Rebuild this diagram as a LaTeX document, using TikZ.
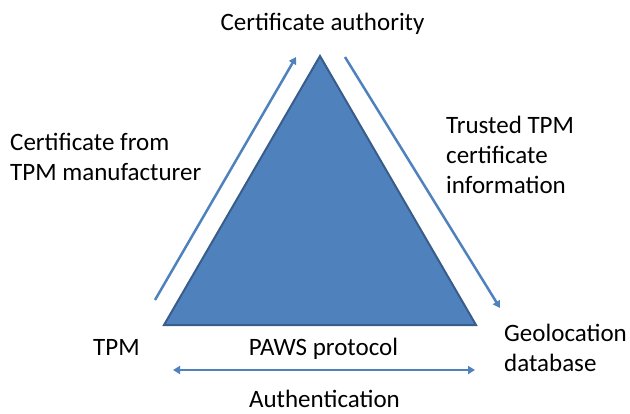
\documentclass[tikz,border=0pt]{standalone}
\usepackage{fontspec}
\setmainfont{Carlito}
\usetikzlibrary{arrows.meta}
\definecolor{paneblue}{HTML}{4F81BD}
\definecolor{edgeblue}{HTML}{385D8A}
\begin{document}
\begin{tikzpicture}[
  x=1pt, y=-1pt,
  label/.style={inner sep=0pt,font=\fontsize{25}{30}\selectfont},
  block/.style={label,align=left},
  flow/.style={draw=paneblue,line width=2.5pt,-{Triangle[length=7pt,width=8pt]}},
  twoway/.style={draw=paneblue,line width=2.5pt,{Triangle[length=7pt,width=8pt]}-{Triangle[length=7pt,width=8pt]}}
]
  \useasboundingbox (0,0) rectangle (630,413);
  \coordinate (top) at (320,56);
  \coordinate (left) at (164,325);
  \coordinate (right) at (476,325);
  \fill[paneblue,draw=edgeblue,line width=2pt,line join=miter] (top) -- (left) -- (right) -- cycle;
  \node[label,anchor=base] (ca) at (322.5,30) {Certificate authority};
  \node[block,anchor=base west] (cfrom) at (10,180) {Certificate from\\TPM manufacturer};
  \node[block,anchor=base west] (trusted) at (446,193) {Trusted TPM\\certificate\\information};
  \node[label,anchor=base west] (tpm) at (93,355) {TPM};
  \node[block,anchor=base west] (geo) at (504,371) {Geolocation\\database};
  \node[label,anchor=base] (paws) at (323.5,355) {PAWS protocol};
  \node[label,anchor=base] (auth) at (324.5,407) {Authentication};
  \coordinate (up0) at (155,300);
  \coordinate (up1) at (296,57);
  \coordinate (down0) at (345,57);
  \coordinate (down1) at (500,308);
  \coordinate (both0) at (173,370);
  \coordinate (both1) at (475,370);
  \draw[flow] (up0) -- (up1);
  \draw[flow] (down0) -- (down1);
  \draw[twoway] (both0) -- (both1);
\end{tikzpicture}
\end{document}
